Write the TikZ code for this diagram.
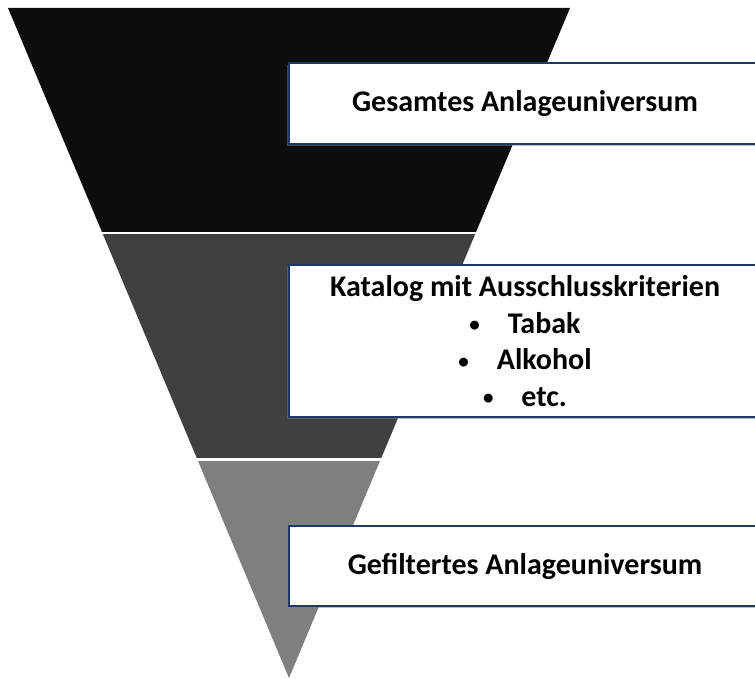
\documentclass[tikz,border=0pt]{standalone}
\usepackage{fontspec}
\setmainfont{Carlito}
\usetikzlibrary{shadows}
\definecolor{bandA}{HTML}{0D0D0D}
\definecolor{bandB}{HTML}{404040}
\definecolor{bandC}{HTML}{7F7F7F}
\definecolor{frameblue}{HTML}{1F3864}
% small bullet followed by a fixed gap
\newcommand{\itemdot}{{\fontsize{21}{21}\selectfont\raisebox{1.5pt}{\textbullet}}\hspace{28pt}}
\begin{document}
\begin{tikzpicture}[x=1pt,y=-1pt,
  labelbox/.style={draw=frameblue, line width=2pt, fill=white,
    minimum width=472pt, inner sep=0pt, align=center,
    font=\fontsize{30}{36.5}\selectfont\bfseries,
    drop shadow={shadow xshift=-2pt, shadow yshift=-2pt, opacity=0.5}}]
\useasboundingbox (0,0) rectangle (755,679);
% funnel split into three bands
\coordinate (tl) at (8,8);
\coordinate (tr) at (570,8);
\coordinate (apex) at (289,678);
\begin{scope}
  \clip (tl) -- (tr) -- (apex) -- cycle;
  \fill[bandA] (0,0) rectangle (760,232);
  \fill[bandB] (0,234.5) rectangle (760,458);
  \fill[bandC] (0,460.5) rectangle (760,680);
\end{scope}
% text boxes
\node[labelbox, minimum height=81pt] (universe) at (525,103.5) {Gesamtes Anlageuniversum};
\node[labelbox, minimum height=152pt] (catalog) at (525,341) {Katalog mit Ausschlusskriterien\\
  \itemdot Tabak\\
  \itemdot Alkohol\\
  \itemdot etc.};
\node[labelbox, minimum height=80pt] (filtered) at (525,566) {Gefiltertes Anlageuniversum};
\end{tikzpicture}
\end{document}
